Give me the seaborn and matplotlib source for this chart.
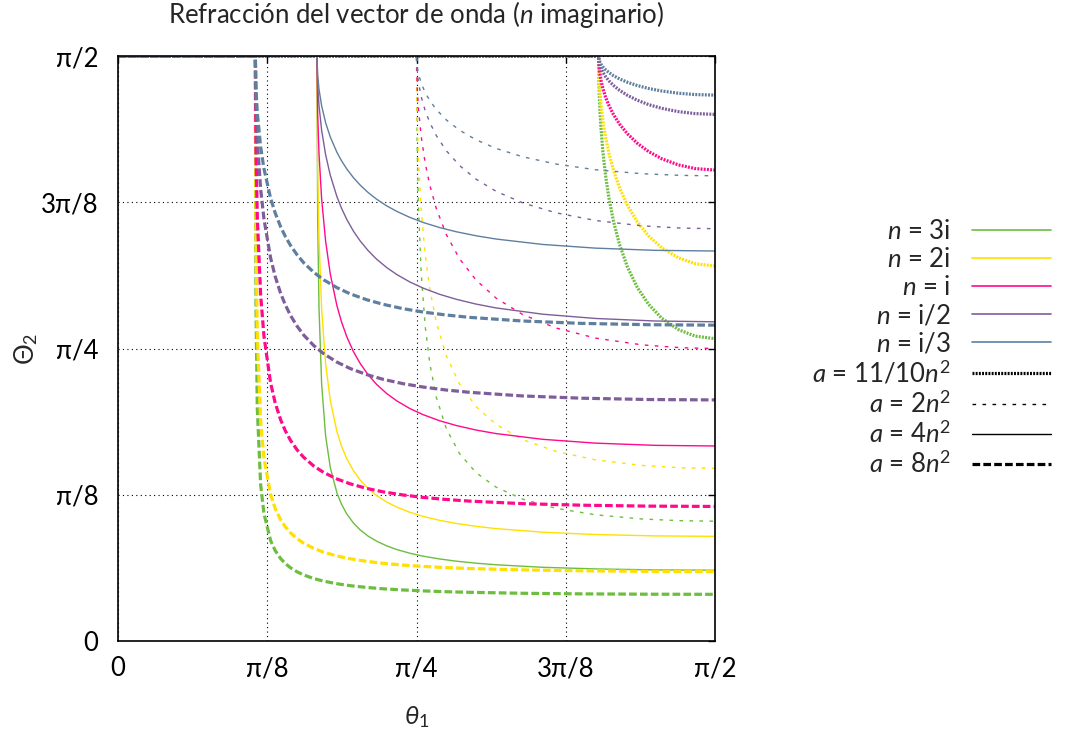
import numpy as np
import pandas as pd
import matplotlib
matplotlib.use("Agg")
import matplotlib.pyplot as plt
from matplotlib.lines import Line2D
import seaborn as sns

# ---------------- data (angles in degrees) ----------------
n_labels = ["3i", "2i", "i", "i/2", "i/3"]
a_labels = ["11/10", "2", "4", "8"]

# a = 8 n^2
theta1_a8 = [0, 20.705, 20.8, 21, 21.5, 22, 23, 23.7, 24.5, 25.2, 26, 27, 28, 29.5, 31, 33, 35,
             37.5, 40, 43, 46, 49.5, 53, 61, 70, 80, 90]
a8_n3i = [90, 90, 51.57, 35.80, 24.10, 19.62, 15.47, 13.91, 12.71, 11.94, 11.27, 10.64, 10.16, 9.61,
          9.21, 8.81, 8.51, 8.24, 8.03, 7.85, 7.71, 7.58, 7.49, 7.34, 7.25, 7.20, 7.18]
a8_n2i = [90, 90, 62.13, 47.25, 33.86, 28.14, 22.55, 20.38, 18.69, 17.60, 16.65, 15.74, 15.04, 14.25,
          13.66, 13.08, 12.65, 12.25, 11.95, 11.68, 11.47, 11.29, 11.15, 10.94, 10.80, 10.72, 10.70]
a8_ni = [90, 90, 75.19, 65.20, 53.31, 46.93, 39.70, 36.62, 34.08, 32.39, 30.88, 29.40, 28.25, 26.93,
         25.93, 24.93, 24.18, 23.47, 22.94, 22.46, 22.09, 21.77, 21.52, 21.13, 20.89, 20.75, 20.70]
a8_ni2 = [90, 90, 82.47, 76.99, 69.57, 64.95, 58.95, 56.07, 53.54, 51.76, 50.10, 48.43, 47.06, 45.46,
          44.20, 42.91, 41.92, 40.98, 40.25, 39.58, 39.07, 38.61, 38.26, 37.70, 37.35, 37.15, 37.09]
a8_ni3 = [90, 90, 84.96, 81.24, 76.05, 72.69, 68.13, 65.84, 63.77, 62.29, 60.87, 59.40, 58.19, 56.73,
          55.57, 54.36, 53.41, 52.50, 51.79, 51.12, 50.61, 50.15, 49.79, 49.23, 48.86, 48.66, 48.59]

# a = 4 n^2
theta1_a4 = [0, 30, 30.1, 30.3, 30.7, 31.3, 32, 33, 33.7, 34.5, 35.5, 36.5, 37.7, 39, 40.5, 42, 44,
             46, 48.5, 51, 54, 57, 64, 72, 81, 90]
a4_n3i = [90, 90, 65.05, 51.27, 39.50, 31.54, 26.71, 22.80, 21.03, 19.53, 18.14, 17.10, 16.14, 15.35,
          14.64, 14.08, 13.50, 13.05, 12.62, 12.28, 11.97, 11.73, 11.34, 11.09, 10.94, 10.89]
a4_n2i = [90, 90, 72.76, 61.87, 51.04, 42.63, 37.04, 32.23, 29.97, 28.02, 26.18, 24.77, 23.47, 22.37,
          21.39, 20.61, 19.80, 19.17, 18.56, 18.08, 17.64, 17.29, 16.74, 16.38, 16.17, 16.10]
a4_ni = [90, 90, 81.18, 75.03, 67.98, 61.50, 56.48, 51.59, 49.08, 46.79, 44.51, 42.71, 40.97, 39.46,
         38.08, 36.96, 35.76, 34.82, 33.88, 33.15, 32.45, 31.91, 31.03, 30.44, 30.10, 30.00]
a4_ni2 = [90, 90, 85.57, 82.39, 78.57, 74.81, 71.67, 68.37, 66.57, 64.84, 63.04, 61.56, 60.07, 58.73,
          57.46, 56.40, 55.23, 54.29, 53.33, 52.57, 51.83, 51.24, 50.28, 49.62, 49.23, 49.11]
a4_ni3 = [90, 90, 87.04, 84.91, 82.32, 79.74, 77.55, 75.19, 73.88, 72.61, 71.27, 70.15, 69.00, 67.96,
          66.95, 66.11, 65.17, 64.39, 63.60, 62.96, 62.34, 61.84, 61.01, 60.44, 60.10, 60.00]

# a = 2 n^2
theta1_a2 = [0, 45, 45.1, 45.3, 45.7, 46.3, 47, 48, 49.5, 51.5, 54, 57, 61, 66, 72, 79, 85, 90]
a2_n3i = [90, 90, 75.95, 66.64, 56.77, 48.53, 42.70, 37.45, 32.65, 28.81, 25.88, 23.67, 21.82, 20.42, 19.41, 18.77, 18.50, 18.43]
a2_n2i = [90, 90, 80.53, 73.94, 66.41, 59.50, 54.16, 48.97, 43.87, 39.52, 36.04, 33.32, 30.99, 29.18, 27.86, 27.01, 26.65, 26.57]
a2_ni = [90, 90, 85.23, 81.81, 77.68, 73.59, 70.14, 66.49, 62.52, 58.78, 55.51, 52.75, 50.23, 48.16, 46.60, 45.56, 45.11, 45.00]
a2_ni2 = [90, 90, 87.61, 85.88, 83.77, 81.62, 79.77, 77.73, 75.42, 73.14, 71.04, 69.18, 67.41, 65.88, 64.69, 63.87, 63.52, 63.43]
a2_ni3 = [90, 90, 88.41, 87.25, 85.84, 84.39, 83.14, 81.75, 80.16, 78.58, 77.10, 75.78, 74.50, 73.38, 72.50, 71.89, 71.63, 71.57]

# a = 11/10 n^2
theta1_a11 = [0, 72.45, 72.5, 72.6, 72.8, 73.1, 73.5, 74, 74.7, 75.6, 76.8, 78.3, 80, 82, 84.5, 87, 90]
a11_n3i = [90, 90, 85.84, 82.76, 79.03, 75.26, 71.63, 68.20, 64.55, 61.02, 57.53, 54.36, 51.78, 49.64, 47.90, 46.91, 46.51]
a11_n2i = [90, 90, 87.23, 85.16, 82.63, 80.05, 77.51, 75.07, 72.40, 69.74, 67.01, 64.46, 62.30, 60.47, 58.94, 58.05, 57.69]
a11_ni = [90, 90, 88.61, 87.58, 86.30, 84.99, 83.68, 82.41, 80.99, 79.54, 78.03, 76.56, 75.29, 74.18, 73.24, 72.68, 72.45]
a11_ni2 = [90, 90, 89.31, 88.79, 88.15, 87.49, 86.83, 86.19, 85.47, 84.73, 83.95, 83.19, 82.52, 81.94, 81.44, 81.14, 81.02]
a11_ni3 = [90, 90, 89.54, 89.19, 88.77, 88.33, 87.89, 87.46, 86.97, 86.48, 85.96, 85.45, 85.00, 84.61, 84.27, 84.07, 83.98]

tick_values = [0, 22.5, 45, 67.5, 90]
tick_labels = ["0", "π/8", "π/4", "3π/8", "π/2"]

# ---------------- build long table ----------------
groups = [
    ("11/10", theta1_a11, [a11_n3i, a11_n2i, a11_ni, a11_ni2, a11_ni3]),
    ("2", theta1_a2, [a2_n3i, a2_n2i, a2_ni, a2_ni2, a2_ni3]),
    ("4", theta1_a4, [a4_n3i, a4_n2i, a4_ni, a4_ni2, a4_ni3]),
    ("8", theta1_a8, [a8_n3i, a8_n2i, a8_ni, a8_ni2, a8_ni3]),
]
rows = []
for a, th, ys in groups:
    for n, yv in zip(n_labels, ys):
        for x, v in zip(th, yv):
            rows.append((a, n, x, v))
df = pd.DataFrame(rows, columns=["a", "n", "theta1", "Theta2"])

colors = {"3i": "#6dbd3f", "2i": "#ffe000", "i": "#ff0a8c",
          "i/2": "#7d5e9b", "i/3": "#5f7f9e"}
dash_map = {"11/10": (0.6, 0.4), "2": (2.6, 4.6), "4": "", "8": (2.4, 1.0)}
width_map = {"11/10": 2.3, "2": 1.0, "4": 1.0, "8": 2.3}

# ---------------- style ----------------
sns.set_theme(style="white")
plt.rcParams["font.family"] = ["Lato", "DejaVu Sans"]
plt.rcParams["mathtext.fontset"] = "custom"
plt.rcParams["mathtext.rm"] = "Lato"
plt.rcParams["mathtext.it"] = "Lato:italic"
plt.rcParams["mathtext.bf"] = "Lato:bold"
plt.rcParams["mathtext.sf"] = "Lato"

FS = 18.5
W, H = 1075, 734
fig = plt.figure(figsize=(W / 100, H / 100), dpi=100)
ax = fig.add_axes([118 / W, 1 - 641 / H, (715 - 118) / W, (641 - 56) / H])

sns.lineplot(data=df, x="theta1", y="Theta2", hue="n", style="a", size="a",
             hue_order=n_labels, style_order=a_labels, size_order=a_labels,
             palette=colors, dashes=dash_map, sizes=width_map,
             estimator=None, sort=False, legend=False, ax=ax)

ax.set_xlim(0, 90)
ax.set_ylim(0, 90)
ax.set_xticks(tick_values)
ax.set_xticklabels(tick_labels)
ax.set_yticks(tick_values)
ax.set_yticklabels(tick_labels)
ax.grid(True, color="black", linestyle=(0, (1, 3)), linewidth=0.8)
ax.set_axisbelow(True)
ax.tick_params(direction="in", length=5, width=1, top=True, right=True,
               labelsize=FS, colors="black")
ax.tick_params(axis="x", pad=11)
ax.tick_params(axis="y", pad=14)
for sp in ax.spines.values():
    sp.set_color("black")
    sp.set_linewidth(1.2)
ax.set_xlabel(r"$\theta_1$", fontsize=FS)
ax.set_ylabel(r"$\Theta_2$", fontsize=FS)
ax.xaxis.set_label_coords(0.5, -0.108)
ax.yaxis.set_label_coords(-0.13, 0.5)

fig.text(416.5 / W, 1 - 14 / H, "Refracción del vector de onda ($n$ imaginario)",
         ha="center", va="center", fontsize=FS)

# ---------------- legend ----------------
handles, labels = [], []
for n in n_labels:
    handles.append(Line2D([], [], color=colors[n], lw=1.2))
    labels.append("$n$ = " + n)
a_text = {"11/10": "$a$ = 11/10$n^2$", "2": "$a$ = 2$n^2$", "4": "$a$ = 4$n^2$", "8": "$a$ = 8$n^2$"}
for a in a_labels:
    if dash_map[a] == "":
        h = Line2D([], [], color="black", lw=width_map[a], ls="-")
    else:
        h = Line2D([], [], color="black", lw=width_map[a], dashes=dash_map[a])
    handles.append(h)
    labels.append(a_text[a])
fig.legend(handles, labels, loc="upper right", bbox_to_anchor=(1064 / W, 1 - 206 / H),
           frameon=False, markerfirst=False, handlelength=3.1, handletextpad=0.8,
           labelspacing=0.12, borderpad=0, fontsize=FS)

fig.savefig("out.png", dpi=100)
